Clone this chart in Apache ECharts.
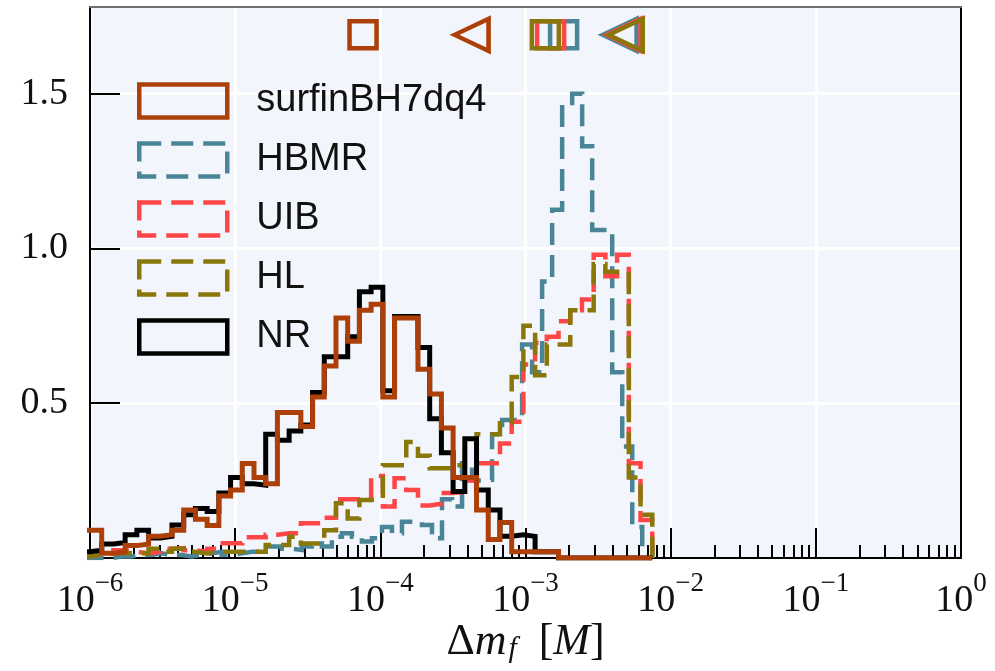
<!DOCTYPE html>
<html>
<head>
<meta charset="utf-8">
<script src="https://cdn.jsdelivr.net/npm/echarts@6/dist/echarts.min.js"></script>
<style>
  html, body { margin: 0; padding: 0; background: #ffffff; }
  #chart { width: 995px; height: 671px; }
</style>
</head>
<body>
<div id="chart"></div>
<script>
// ---- data -----------------------------------------------------------------
const seriesNames = ['surfinBH7dq4', 'HBMR', 'UIB', 'HL', 'NR'];

// Histogram bins are uniform in log10(Δm_f).
// surfinBH7dq4, UIB, HL and NR share one grid; HBMR has its own.
const sharedBinLo = -6.0807, sharedBinStep = 0.08069;   // 49 bins
const hbmrBinLo = -6.0579, hbmrBinStep = 0.068966;      // 57 bins

// normalised densities, one value per bin
const surfinDensity = [0.09, 0.09, 0.015, 0.02, 0.04, 0.045, 0.07, 0.075, 0.09, 0.155,
  0.125, 0.105, 0.2, 0.22, 0.305, 0.26, 0.24, 0.47, 0.47, 0.425,
  0.52, 0.62, 0.775, 0.70, 0.80, 0.82, 0.52, 0.775, 0.775, 0.61,
  0.53, 0.42, 0.26, 0.26, 0.155, 0.06, 0.115, 0.02, 0.02, 0.02,
  0.02, 0, 0, 0, 0, 0, 0, 0, 0];

const nrDensity = [0.02, 0.025, 0.045, 0.05, 0.075, 0.09, 0.065, 0.07, 0.107, 0.14,
  0.16, 0.15, 0.21, 0.26, 0.24, 0.235, 0.40, 0.38, 0.41, 0.43,
  0.535, 0.65, 0.65, 0.715, 0.86, 0.875, 0.54, 0.78, 0.78, 0.68,
  0.45, 0.34, 0.215, 0.385, 0.22, 0.155, 0.07, 0.075, 0.07, 0.02,
  0.02, 0, 0, 0, 0, 0, 0, 0, 0];

const uibDensity = [0.005, 0.01, 0.015, 0.025, 0.02, 0.015, 0.02, 0.03, 0.032, 0.025,
  0.02, 0.03, 0.048, 0.048, 0.067, 0.067, 0.075, 0.08, 0.08, 0.112,
  0.112, 0.13, 0.19, 0.19, 0.19, 0.265, 0.166, 0.258, 0.22, 0.17,
  0.175, 0.21, 0.214, 0.25, 0.306, 0.306, 0.37, 0.44, 0.625, 0.695,
  0.715, 0.765, 0.80, 0.835, 0.98, 0.91, 0.98, 0.306, 0.123];

const hlDensity = [0.005, 0.01, 0.015, 0.015, 0.015, 0.015, 0.03, 0.02, 0.03, 0.02,
  0.015, 0.02, 0.02, 0.02, 0.02, 0.02, 0.042, 0.042, 0.069, 0.047,
  0.047, 0.09, 0.177, 0.128, 0.1875, 0.19, 0.30, 0.30, 0.375, 0.33,
  0.29, 0.29, 0.30, 0.345, 0.40, 0.40, 0.435, 0.585, 0.75, 0.59,
  0.69, 0.69, 0.80, 0.80, 0.95, 0.925, 0.925, 0.26, 0.14];

const hbmrDensity = [0, 0, 0, 0.005, 0.005, 0.01, 0.01, 0.015, 0.01, 0.01,
  0.005, 0.01, 0.015, 0.02, 0.01, 0.015, 0.02, 0.02, 0.037, 0.037,
  0.03, 0.026, 0.037, 0.047, 0.037, 0.069, 0.08, 0.069, 0.053, 0.064,
  0.10, 0.08, 0.117, 0.117, 0.107, 0.064, 0.19, 0.166, 0.306, 0.25,
  0.252, 0.40, 0.446, 0.446, 0.69, 0.60, 0.893, 1.125, 1.47, 1.50,
  1.33, 1.06, 1.06, 0.60, 0.36, 0.10, 0.037];

// summary markers drawn above the histograms (square = median, triangle = upper)
const medianMarks = [7.6e-5, 1.83e-3, 1.49e-3, 1.37e-3];   // surfinBH7dq4, HBMR, UIB, HL
const upperMarks = [4.25e-4, 4.45e-3, 4.74e-3, 4.9e-3];

const xTickValues = [1e-6, 1e-5, 1e-4, 1e-3, 1e-2, 1e-1, 1];
const yTickValues = [0.5, 1.0, 1.5];

// ---- styling ----------------------------------------------------------------
const colors = {
  'surfinBH7dq4': '#ad3f08',
  'HBMR': '#4a8597',
  'UIB': '#ff4646',
  'HL': '#8a770a',
  'NR': '#000000'
};
const dashed = { 'surfinBH7dq4': false, 'HBMR': true, 'UIB': true, 'HL': true, 'NR': false };
const DASH = [22, 10];
const MARK_Y = 1.69;
const serif = 'Liberation Serif';
const sans = 'Liberation Sans';

// step outline of a histogram, as (x, y) vertices in data space
function stepOutline(lo, step, heights) {
  const pts = [[Math.pow(10, lo), 0]];
  heights.forEach(function (h, i) {
    pts.push([Math.pow(10, lo + i * step), h]);
    pts.push([Math.pow(10, lo + (i + 1) * step), h]);
  });
  pts.push([Math.pow(10, lo + heights.length * step), 0]);
  return pts;
}

const histSpecs = [
  { name: 'HBMR', lo: hbmrBinLo, step: hbmrBinStep, h: hbmrDensity, z: 2 },
  { name: 'UIB', lo: sharedBinLo, step: sharedBinStep, h: uibDensity, z: 3 },
  { name: 'HL', lo: sharedBinLo, step: sharedBinStep, h: hlDensity, z: 4 },
  { name: 'NR', lo: sharedBinLo, step: sharedBinStep, h: nrDensity, z: 5 },
  { name: 'surfinBH7dq4', lo: sharedBinLo, step: sharedBinStep, h: surfinDensity, z: 6 }
];

const series = histSpecs.map(function (s) {
  return {
    name: s.name,
    type: 'line',
    xAxisIndex: 0,
    yAxisIndex: 0,
    data: stepOutline(s.lo, s.step, s.h),
    showSymbol: false,
    symbol: 'none',
    clip: true,
    z: s.z,
    silent: true,
    animation: false,
    lineStyle: {
      color: colors[s.name],
      width: dashed[s.name] ? 4.5 : 5,
      type: dashed[s.name] ? DASH : 'solid',
      join: 'miter',
      cap: 'butt',
      opacity: 1
    }
  };
});

// marker series, drawn HBMR first so UIB and HL sit on top
const markNames = ['surfinBH7dq4', 'HBMR', 'UIB', 'HL'];
markNames.forEach(function (n, i) {
  series.push({
    name: n, type: 'scatter', xAxisIndex: 0, yAxisIndex: 0,
    data: [[medianMarks[i], MARK_Y]],
    symbol: 'rect', symbolSize: 27, z: 10 + i, silent: true, animation: false,
    itemStyle: { color: 'rgba(0,0,0,0)', borderColor: colors[n], borderWidth: 4.5, opacity: 1 }
  });
  series.push({
    name: n, type: 'scatter', xAxisIndex: 0, yAxisIndex: 0,
    data: [[upperMarks[i], MARK_Y]],
    symbol: 'triangle', symbolRotate: 90, symbolSize: [32, 34], z: 10 + i, silent: true, animation: false,
    itemStyle: { color: 'rgba(0,0,0,0)', borderColor: colors[n], borderWidth: 4.5, opacity: 1 }
  });
});

// minor ticks of the log axis: 2..9 × 10^k
const minorTicks = [];
for (let k = -6; k < 0; k++) {
  for (let m = 2; m <= 9; m++) minorTicks.push(m * Math.pow(10, k));
}

function expLabel(v) {
  const e = Math.round(Math.log10(v));
  const s = e < 0 ? '\u2212' + (-e) : String(e);
  return '{b|10}{s|' + s + '}';
}

const chart = echarts.init(document.getElementById('chart'), null, { renderer: 'canvas' });

chart.setOption({
  animation: false,
  backgroundColor: '#ffffff',
  grid: {
    left: 90, right: 34, top: 7, bottom: 113,
    containLabel: false, outerBoundsMode: 'none',
    show: true, backgroundColor: '#f2f6fc', borderWidth: 0
  },
  legend: {
    orient: 'vertical',
    left: 132, top: 77,
    itemWidth: 88, itemHeight: 33, itemGap: 21,
    selectedMode: false,
    data: seriesNames.map(function (n) {
      return {
        name: n,
        icon: 'rect',
        itemStyle: {
          color: 'rgba(0,0,0,0)',
          borderColor: colors[n],
          borderWidth: 4.5,
          borderType: dashed[n] ? DASH : 'solid'
        }
      };
    }),
    textStyle: {
      fontFamily: sans, fontSize: 38, color: '#111111',
      padding: [0, 0, 0, 24], lineHeight: 33
    }
  },
  xAxis: [
    {
      type: 'log', logBase: 10, min: 1e-6, max: 1, gridIndex: 0, position: 'bottom',
      axisLine: { show: true, onZero: false, lineStyle: { color: '#000', width: 2 } },
      axisTick: { show: true, inside: true, length: 30, customValues: xTickValues,
        lineStyle: { color: '#000', width: 2 } },
      axisLabel: {
        show: true, margin: 12, customValues: xTickValues,
        formatter: expLabel,
        rich: {
          b: { fontFamily: serif, fontSize: 38, color: '#111', lineHeight: 50, verticalAlign: 'bottom' },
          s: { fontFamily: serif, fontSize: 27, color: '#111', lineHeight: 27, verticalAlign: 'top' }
        }
      },
      splitLine: { show: true, lineStyle: { color: '#ffffff', width: 3 } },
      minorTick: { show: false },
      name: '{n|\u0394}{i|m}{f|f}{n|\u2009 [}{i|M}{n|]}',
      nameLocation: 'middle', nameGap: 62,
      nameMoveOverlap: false,
      nameTextStyle: {
        verticalAlign: 'top',
        rich: {
          n: { fontFamily: serif, fontSize: 44, color: '#111', lineHeight: 44, verticalAlign: 'top' },
          i: { fontFamily: serif, fontStyle: 'italic', fontSize: 44, color: '#111', lineHeight: 44, verticalAlign: 'top' },
          f: { fontFamily: serif, fontStyle: 'italic', fontSize: 30, color: '#111', lineHeight: 30,
               verticalAlign: 'bottom', padding: [0, 2, 0, 2] }
        }
      }
    },
    {
      type: 'log', logBase: 10, min: 1e-6, max: 1, gridIndex: 0, position: 'bottom',
      axisLine: { show: false },
      axisTick: { show: true, inside: true, length: 13, customValues: minorTicks,
        lineStyle: { color: '#000', width: 2 } },
      axisLabel: { show: false },
      splitLine: { show: false }
    },
    {
      type: 'log', logBase: 10, min: 1e-6, max: 1, gridIndex: 0, position: 'top',
      axisLine: { show: true, onZero: false, lineStyle: { color: '#6f6f6f', width: 2 } },
      axisTick: { show: false },
      axisLabel: { show: false },
      splitLine: { show: false }
    }
  ],
  yAxis: [
    {
      type: 'value', min: 0, max: 1.78, interval: 0.5, gridIndex: 0, position: 'left',
      axisLine: { show: true, onZero: false, lineStyle: { color: '#000', width: 2 } },
      axisTick: { show: true, inside: true, length: 30, customValues: yTickValues,
        lineStyle: { color: '#000', width: 2 } },
      axisLabel: {
        show: true, margin: 22, customValues: yTickValues,
        fontFamily: serif, fontSize: 38, color: '#111',
        formatter: function (v) { return v.toFixed(1); }
      },
      splitLine: { show: true, lineStyle: { color: '#ffffff', width: 3 } }
    },
    {
      type: 'value', min: 0, max: 1.78, gridIndex: 0, position: 'right',
      axisLine: { show: true, onZero: false, lineStyle: { color: '#000', width: 2 } },
      axisTick: { show: false },
      axisLabel: { show: false },
      splitLine: { show: false }
    }
  ],
  series: series
});
</script>
</body>
</html>
